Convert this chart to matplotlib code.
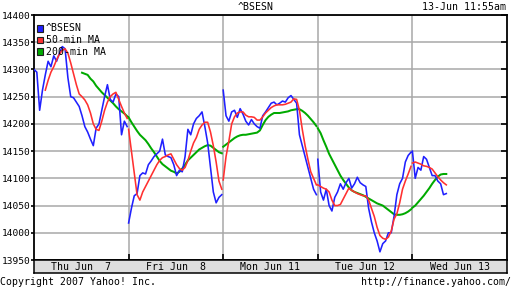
import numpy as np
import matplotlib
matplotlib.use('Agg')
import matplotlib.pyplot as plt
from matplotlib.patches import Rectangle

# ---------------- data ----------------
day_labels = ['Thu Jun  7', 'Fri Jun  8', 'Mon Jun 11', 'Tue Jun 12', 'Wed Jun 13']
session_minutes = 335          # 9:55 - 15:30
sample_step = 10               # minutes between readings
yticks = list(range(13950, 14401, 50))
series_names = ['^BSESN', '50-min MA', '200-min MA']
series_colors = ['#2020ff', '#ff3030', '#00aa00']

nan = float('nan')

bsesn_thu = [14300, 14295, 14225, 14262, 14290, 14315, 14305, 14325, 14315, 14330,
             14342, 14338, 14285, 14250, 14248, 14240, 14232, 14215, 14195, 14185,
             14172, 14160, 14192, 14200, 14225, 14250, 14272, 14245, 14240, 14255,
             14250, 14180, 14205, 14195]
bsesn_fri = [14018, 14045, 14068, 14072, 14105, 14110, 14108, 14125, 14132, 14140,
             14145, 14150, 14172, 14143, 14140, 14138, 14125, 14105, 14115, 14112,
             14140, 14190, 14180, 14200, 14210, 14215, 14222, 14195, 14165, 14120,
             14075, 14055, 14065, 14070]
bsesn_mon = [14262, 14215, 14205, 14222, 14225, 14212, 14228, 14218, 14205, 14198,
             14208, 14200, 14195, 14192, 14215, 14222, 14230, 14238, 14240, 14235,
             14238, 14242, 14240, 14248, 14252, 14245, 14238, 14180, 14160, 14140,
             14120, 14100, 14080, 14070]
bsesn_tue = [14135, 14075, 14060, 14080, 14050, 14040, 14065, 14075, 14090, 14080,
             14092, 14100, 14082, 14090, 14102, 14092, 14088, 14085, 14045, 14020,
             14000, 13985, 13965, 13980, 13985, 14000, 14000, 14030, 14070, 14090,
             14100, 14130, 14142, 14148]
bsesn_wed = [14150, 14100, 14120, 14115, 14140, 14135, 14120, 14105, 14105, 14095,
             14090, 14070, 14072]

ma50_thu = [nan, nan, nan, nan, 14262, 14280, 14295, 14305, 14318, 14328,
            14335, 14338, 14330, 14312, 14292, 14272, 14255, 14250, 14244, 14235,
            14220, 14200, 14190, 14188, 14205, 14225, 14240, 14250, 14255, 14258,
            14245, 14232, 14220, 14210]
ma50_fri = [14190, 14150, 14110, 14070, 14060, 14075, 14085, 14095, 14105, 14115,
            14125, 14133, 14138, 14140, 14143, 14145, 14135, 14125, 14118, 14115,
            14120, 14133, 14150, 14165, 14175, 14190, 14198, 14203, 14203, 14185,
            14160, 14130, 14095, 14080]
ma50_mon = [14097, 14140, 14168, 14200, 14213, 14220, 14222, 14222, 14216, 14213,
            14213, 14212, 14207, 14207, 14213, 14220, 14225, 14230, 14233, 14235,
            14235, 14235, 14236, 14238, 14240, 14246, 14245, 14225, 14190, 14160,
            14135, 14112, 14100, 14088]
ma50_tue = [14088, 14085, 14082, 14080, 14075, 14060, 14050, 14050, 14052, 14062,
            14072, 14082, 14078, 14075, 14072, 14070, 14068, 14068, 14060, 14045,
            14030, 14010, 13995, 13990, 13988, 13992, 14003, 14025, 14035, 14055,
            14080, 14095, 14108, 14122]
ma50_wed = [14128, 14130, 14128, 14126, 14123, 14122, 14120, 14117, 14110, 14103,
            14097, 14092, 14088]

ma200_thu = [nan] * 17 + [14294, 14292, 14290, 14283, 14278, 14270, 14264, 14258,
                          14253, 14248, 14243, 14238, 14232, 14227, 14223, 14219, 14214]
ma200_fri = [14212, 14203, 14195, 14187, 14180, 14175, 14170, 14163, 14155, 14148,
             14140, 14132, 14126, 14122, 14118, 14114, 14112, 14109, 14112, 14118,
             14125, 14133, 14138, 14143, 14148, 14153, 14156, 14159, 14161, 14160,
             14156, 14152, 14148, 14146]
ma200_mon = [14158, 14162, 14166, 14170, 14174, 14177, 14179, 14180, 14180, 14181,
             14182, 14183, 14184, 14188, 14198, 14207, 14213, 14217, 14220, 14220,
             14220, 14221, 14222, 14223, 14225, 14226, 14227, 14227, 14224, 14220,
             14215, 14209, 14203, 14196]
ma200_tue = [14192, 14183, 14170, 14158, 14145, 14135, 14125, 14115, 14105, 14097,
             14090, 14083, 14078, 14075, 14073, 14071, 14069, 14066, 14063, 14060,
             14057, 14054, 14052, 14050, 14046, 14042, 14038, 14034, 14033, 14033,
             14034, 14036, 14039, 14043]
ma200_wed = [14046, 14050, 14056, 14062, 14068, 14075, 14082, 14090, 14097, 14103,
             14107, 14108, 14108]

bsesn = [bsesn_thu, bsesn_fri, bsesn_mon, bsesn_tue, bsesn_wed]
ma50 = [ma50_thu, ma50_fri, ma50_mon, ma50_tue, ma50_wed]
ma200 = [ma200_thu, ma200_fri, ma200_mon, ma200_tue, ma200_wed]


def build(days_values):
    xs, ys = [], []
    for d, vals in enumerate(days_values):
        t = np.arange(len(vals)) * sample_step / session_minutes
        xs.extend(list(d + t))
        ys.extend(vals)
        xs.append(nan)
        ys.append(nan)
    return np.array(xs), np.array(ys)


# ---------------- figure ----------------
W, H = 512, 288
plt.rcParams['font.family'] = ['DejaVu Sans Mono']
fs = 7.1
fig = plt.figure(figsize=(W / 100, H / 100), dpi=100)
fig.patch.set_facecolor('white')

L, R, T, B = 34, 507, 15, 260
ax = fig.add_axes([L / W, 1 - B / H, (R - L) / W, (B - T) / H])
ax.set_xlim(0, 5)
ax.set_ylim(yticks[0], yticks[-1])
ax.set_yticks(yticks)
ax.set_yticklabels([str(v) for v in yticks], fontsize=6.8)
ax.set_xticks([1, 2, 3, 4])
ax.set_xticklabels([])
ax.tick_params(axis='x', direction='in', length=4, width=1.2, color='black', bottom=True, top=False)
ax.tick_params(axis='y', direction='out', length=2.2, width=1.2, pad=0.4, left=True, right=False)
ax.grid(True, color='#a8a8a8', linewidth=1.1)
ax.set_axisbelow(True)
for s in ax.spines.values():
    s.set_linewidth(1.3)
    s.set_color('black')

axr = ax.twinx()
axr.set_ylim(yticks[0], yticks[-1])
axr.set_yticks(yticks)
axr.set_yticklabels([])
axr.tick_params(axis='y', direction='in', length=4, width=1.2)
for s in axr.spines.values():
    s.set_visible(False)

lw = 1.15
x, y = build(bsesn)
ax.plot(x, y, color=series_colors[0], lw=lw, zorder=3)
x, y = build(ma50)
ax.plot(x, y, color=series_colors[1], lw=lw, zorder=4)
x, y = build(ma200)
ax.plot(x, y, color=series_colors[2], lw=lw + 0.3, zorder=2)

# legend (no frame, drawn over grid)
for k, (name, col) in enumerate(zip(series_names, series_colors)):
    yy = 0.946 - k * 0.048
    ax.add_patch(Rectangle((0.006, yy - 0.014), 0.014, 0.028, transform=ax.transAxes,
                           facecolor=col, edgecolor='#202020', linewidth=0.8, zorder=5))
    ax.text(0.0245, yy, name, transform=ax.transAxes, fontsize=fs, va='center',
            ha='left', zorder=5)

# date strip
axd = fig.add_axes([L / W, 1 - 273 / H, (R - L) / W, 13 / H])
axd.set_facecolor('#dedede')
axd.set_xlim(0, 5)
axd.set_ylim(0, 1)
axd.set_xticks([])
axd.set_yticks([])
for s in axd.spines.values():
    s.set_linewidth(1.1)
for d, lab in enumerate(day_labels):
    axd.text(d + 0.5, 0.45, lab, ha='center', va='center', fontsize=fs)

fig.text(256 / W, 1 - 7 / H, '^BSESN', ha='center', va='center', fontsize=fs)
fig.text(506 / W, 1 - 7 / H, '13-Jun 11:55am', ha='right', va='center', fontsize=fs)
fig.text(0.5 / W, 1 - 282 / H, 'Copyright 2007 Yahoo! Inc.', ha='left', va='center', fontsize=fs)
fig.text(511 / W, 1 - 282 / H, 'http://finance.yahoo.com/', ha='right', va='center', fontsize=fs)

fig.savefig('out.png', dpi=100)
